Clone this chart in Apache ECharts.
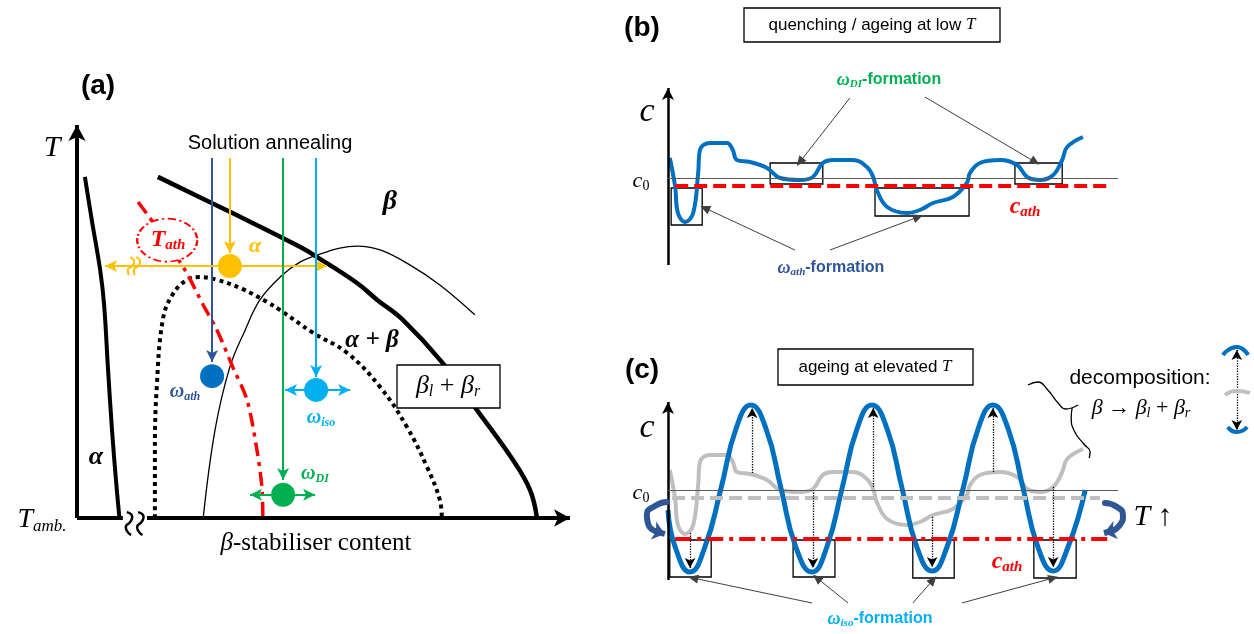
<!DOCTYPE html>
<html>
<head>
<meta charset="utf-8">
<script src="https://cdn.jsdelivr.net/npm/echarts/dist/echarts.min.js"></script>
<style>
  html, body { margin: 0; padding: 0; background: #fff; }
  #chart { width: 1254px; height: 634px; }
</style>
</head>
<body>
<div id="chart"></div>
<script>
// ---------- (a) schematic phase diagram: x = beta-stabiliser content, y = T (0..100) ----------
const alphaBoundary = [[1.6,86.8],[3.0,75.8],[4.7,63.1],[5.5,54.2],[6.3,37.7],[7.1,22.4],[7.9,9.7],[8.6,0]];
const betaTransus = [[16.4,86.8],[31.0,77.9],[45.2,69.0],[48.7,66.4],[56.8,59.8],[60.9,55.5],[66.1,50.4],[74.2,39.4],[81.1,27.5],[88.4,14.8],[91.9,7.1],[93.3,0]];
const spinodal = [[25.6,0],[28.0,22.4],[31.0,38.4],[34.1,47.8],[37.1,55.5],[41.2,61.3],[45.2,65.1],[48.7,66.9],[53.3,68.7],[56.8,69.2],[61.5,68.2],[67.5,64.4],[73.6,59.3],[80.7,51.7]];
const omegaLimit = [[15.8,0],[15.8,17.3],[16.2,33.8],[17.4,50.4],[19.3,56.7],[22.3,60.6],[24.9,61.3],[28.4,60.6],[33.5,58.3],[38.5,55.0],[41.2,52.9],[47.9,47.1],[54.8,42.0],[61.5,33.3],[66.9,23.2],[71.0,13.0],[73.6,4.6],[74.0,0]];
const tAthLine = [[12.4,80.4],[16.8,72.8],[21.9,63.1],[25.6,54.2],[28.4,47.8],[31.6,38.4],[34.5,30.0],[36.5,17.3],[37.5,7.9],[37.7,0]];
const tAthMark = [18.3, 70.7];
const axisBreakA = [[10.1,1.5],[11.2,0.3],[10.8,-1.0],[9.9,-2.3],[10.3,-3.6],[11.0,-4.3]];
const axisBreakB = [[12.4,1.5],[13.5,0.3],[13.1,-1.0],[12.2,-2.3],[12.6,-3.6],[13.3,-4.3]];
const alphaBreakA = [[10.8,66.4],[11.6,65.1],[11.2,64.1],[10.3,63.1],[10.5,61.8]];
const alphaBreakB = [[12.0,66.4],[12.8,65.1],[12.4,64.1],[11.5,63.1],[11.7,61.8]];
const xAxisLeftEnd = 9.3, xAxisRightStart = 14.2;
const annealStartT = 91.6;
// end points of the quenches: [content, T]
const omegaAthPt = [27.4, 36.1];
const alphaPt = [31.0, 64.1];
const omegaIsoPt = [48.5, 32.6];
const omegaDIPt = [41.8, 5.9];
// arrow tips reached by each quench line
const quenchTips = { ath: 39.7, alpha: 67.4, iso: 35.9, di: 9.7 };
// horizontal spreads [left tip, right tip]
const alphaSpread = [5.7, 50.7];
const isoSpread = [42.2, 55.4];
const diSpread = [35.1, 48.3];

// ---------- (b) concentration profile after quenching / low-T ageing (c0 = 0) ----------
const profileLow = [[0.4,2.0],[1.6,-0.9],[2.2,-3.5],[3.8,-4.4],[5.6,-3.5],[6.7,0.5],[7.1,2.8],[9.3,3.5],[13.1,3.5],[14.4,2.8],[15.3,1.8],[18.2,1.6],[22.0,1.0],[24.9,0],[29.3,-0.2],[32.2,0.1],[34.4,1.5],[36.7,1.8],[41.1,1.8],[44.2,1.1],[45.6,0.1],[46.4,-1.2],[48.7,-2.9],[53.1,-3.5],[56.0,-3.2],[58.9,-2.5],[63.3,-1.9],[66.4,-0.5],[67.1,0.5],[69.3,1.5],[73.8,1.8],[77.6,1.3],[79.8,0.1],[82.7,-0.2],[85.6,0.3],[87.6,1.8],[88.7,3.1],[92.2,4.1]];
const cAthLow = -0.8;
const cAxisB = [-8.7, 9.0];
const boxesB = [[[0.7,-1.0],[7.6,-4.7]], [[22.7,1.5],[34.4,-0.6]], [[46.0,-1.0],[66.9,-3.8]], [[77.1,1.5],[87.6,-0.6]]];
const diArrowsB = [[[40.4,8.0],[29.3,1.6]], [[57.1,8.1],[81.6,1.6]]];
const athArrowsB = [[[28.2,-7.2],[8.2,-3.0]], [[36.0,-7.2],[55.6,-3.9]]];

// ---------- (c) profile after ageing at elevated T ----------
const profileAged = [[0,-2.0],[1.6,-5.7],[4.9,-8.2],[8.2,-5.7],[11.8,0.2],[15.1,6.1],[18.4,8.5],[21.8,6.1],[25.1,0.2],[28.4,-5.7],[32.0,-8.2],[35.3,-5.7],[38.7,0.2],[42.0,6.1],[45.3,8.5],[48.7,6.1],[52.0,0.2],[55.3,-5.7],[58.7,-8.1],[62.0,-5.7],[65.6,0.2],[68.9,6.1],[72.2,8.5],[75.6,6.1],[78.9,0.2],[82.2,-5.7],[85.6,-8.1],[88.9,-5.7],[92.7,0.0]];
const cAthAged = -4.9;
const cAxisC = [-9.0, 8.8];
const boxesC = [[[0.4,-5.0],[9.6,-8.7]], [[27.8,-5.0],[37.1,-8.7]], [[54.4,-5.0],[63.6,-8.8]], [[81.3,-5.0],[90.7,-8.8]]];
// [position, c before, c after]
const shiftsC = [[4.9,-4.3,-7.8],[18.7,1.7,8.2],[32.2,0,-7.8],[45.6,0.3,8.2],[58.7,-2.7,-7.7],[72.2,1.8,8.2],[85.6,0.3,-7.7]];
const isoArrowsC = [[[32.0,-11.3],[5.6,-8.8]], [[40.0,-11.3],[33.1,-8.8]], [[54.4,-11.3],[58.9,-9.0]], [[65.3,-11.3],[85.6,-8.8]]];
// curved "T up" arrows: arc body and head segment
const turnLeftArc = [[-0.2,-1.2],[-2.9,-1.6],[-4.7,-2.5],[-4.4,-3.4],[-2.9,-4.1]];
const turnLeftHead = [[-2.9,-4.1],[-0.7,-4.4]];
const turnRightArc = [[97.1,-1.3],[99.8,-1.7],[101.1,-2.6],[100.4,-3.5],[98.7,-4.1]];
const turnRightHead = [[98.7,-4.1],[96.9,-4.3]];
const braceUpper = [[80.0,10.5],[82.2,10.8],[84.4,10.0],[86.7,8.7],[88.4,8.1],[91.1,8.5]];
const braceLower = [[89.8,8.2],[89.6,7.2],[90.4,5.8],[92.4,4.6],[93.8,3.8],[93.6,3.2]];
const iconTop = [[123.3,13.5],[126.4,14.3],[128.9,13.5]];
const iconMid = [[123.8,9.5],[126.4,9.9],[129.3,9.7]];
const iconBottom = [[124.4,6.3],[126.4,5.8],[128.7,6.3]];
const iconShift = [[126.4,14.0],[126.4,6.0]];

// ---------- styles ----------
const RED = '#FF0000', DBLUE = '#2F5597', BLUE = '#0070C0', LBLUE = '#00B0F0',
      GREEN = '#00B050', YELLOW = '#FFC000', GRAY = '#BFBFBF', INK = '#000';
const SANS = '"Liberation Sans", Arial, sans-serif';
const SERIF = '"Liberation Serif", "Times New Roman", serif';

function curve(i, data, style, smooth, z) {
  return { type: 'line', xAxisIndex: i, yAxisIndex: i, data: data, symbol: 'none', showSymbol: false,
           smooth: smooth, clip: false, silent: true, z: z || 2, lineStyle: style };
}
function arrows(i, pairs, style, symbol, size, z) {
  return { type: 'line', xAxisIndex: i, yAxisIndex: i, data: [], silent: true, z: z || 3,
    markLine: { silent: true, animation: false, symbol: symbol, symbolSize: size,
      label: { show: false }, emphasis: { disabled: true }, lineStyle: style,
      data: pairs.map(p => [{ coord: p[0] }, { coord: p[1] }]) } };
}
function boxes(i, rects) {
  return { type: 'line', xAxisIndex: i, yAxisIndex: i, data: [], silent: true, z: 4,
    markArea: { silent: true, animation: false, label: { show: false },
      itemStyle: { color: 'rgba(0,0,0,0)', borderColor: INK, borderWidth: 1.3 },
      data: rects.map(r => [{ coord: r[0] }, { coord: r[1] }]) } };
}
function text(x, y, str, font, fill, rich) {
  return { type: 'text', x: x, y: y, silent: true, z: 100,
    style: { text: str, font: font, fill: fill || INK, align: 'center', verticalAlign: 'middle', rich: rich } };
}
function rect(x, y, w, h) {
  return { type: 'rect', silent: true, z: 99, shape: { x: x, y: y, width: w, height: h },
    style: { fill: '#fff', stroke: INK, lineWidth: 1.3 } };
}
function mathRich(color, size, bold) {
  const w = bold ? 'bold' : 'normal';
  return {
    m: { fontFamily: SERIF, fontStyle: 'italic', fontWeight: w, fontSize: size, fill: color },
    s: { fontFamily: SERIF, fontStyle: 'italic', fontWeight: w, fontSize: Math.round(size * 0.62), fill: color, padding: [Math.round(size * 0.45), 0, 0, 0] },
    z: { fontFamily: SERIF, fontStyle: 'normal', fontWeight: w, fontSize: Math.round(size * 0.62), fill: color, padding: [Math.round(size * 0.45), 0, 0, 0] },
    n: { fontFamily: SERIF, fontStyle: 'normal', fontWeight: w, fontSize: size, fill: color },
    f: { fontFamily: SANS, fontWeight: 'bold', fontSize: size - 2, fill: color },
    t: { fontFamily: SANS, fontWeight: 'normal', fontSize: size, fill: color }
  };
}
const vert = (x, top, tip) => [[x, top], [x, tip]];

const series = [];

// ---- panel (a) ----
series.push(arrows(0, [[[0, 0], [0, 100]], [[xAxisRightStart, 0], [100, 0]]], { color: INK, width: 4, type: 'solid' }, ['none', 'arrow'], [13, 16], 6));
series.push(arrows(0, [[[0, 0], [xAxisLeftEnd, 0]]], { color: INK, width: 4, type: 'solid' }, ['none', 'none'], 1, 6));
series.push(curve(0, axisBreakA, { color: INK, width: 2.5 }, 0.6, 6));
series.push(curve(0, axisBreakB, { color: INK, width: 2.5 }, 0.6, 6));
series.push(curve(0, alphaBoundary, { color: INK, width: 4 }, 0.4));
series.push(curve(0, betaTransus, { color: INK, width: 4.5 }, 0.4));
series.push(curve(0, spinodal, { color: INK, width: 1.3 }, 0.4));
series.push(curve(0, omegaLimit, { color: INK, width: 4, type: [4, 4] }, 0.4));
series.push(curve(0, tAthLine, { color: RED, width: 3.5, type: [14, 6, 4, 6] }, 0.3, 3));
series.push({ type: 'scatter', xAxisIndex: 0, yAxisIndex: 0, data: [tAthMark], symbol: 'circle', symbolSize: [60, 43], silent: true, z: 4,
  itemStyle: { color: '#fff', opacity: 1, borderColor: RED, borderWidth: 2, borderType: [7, 3, 2, 3] } });
// quench paths from solution annealing
const headA = [9, 12];
series.push(arrows(0, [vert(omegaAthPt[0], annealStartT, quenchTips.ath)], { color: DBLUE, width: 2, type: 'solid' }, ['none', 'arrow'], headA, 5));
series.push(arrows(0, [vert(alphaPt[0], annealStartT, quenchTips.alpha),
  [alphaPt, [alphaSpread[0], alphaPt[1]]], [alphaPt, [alphaSpread[1], alphaPt[1]]]],
  { color: YELLOW, width: 2, type: 'solid' }, ['none', 'arrow'], headA, 5));
series.push(arrows(0, [vert(omegaDIPt[0], annealStartT, quenchTips.di),
  [omegaDIPt, [diSpread[0], omegaDIPt[1]]], [omegaDIPt, [diSpread[1], omegaDIPt[1]]]],
  { color: GREEN, width: 2, type: 'solid' }, ['none', 'arrow'], headA, 5));
series.push(arrows(0, [vert(omegaIsoPt[0], annealStartT, quenchTips.iso),
  [omegaIsoPt, [isoSpread[0], omegaIsoPt[1]]], [omegaIsoPt, [isoSpread[1], omegaIsoPt[1]]]],
  { color: LBLUE, width: 2, type: 'solid' }, ['none', 'arrow'], headA, 5));
series.push(curve(0, alphaBreakA, { color: YELLOW, width: 2 }, 0.6, 6));
series.push(curve(0, alphaBreakB, { color: YELLOW, width: 2 }, 0.6, 6));
series.push({ type: 'scatter', xAxisIndex: 0, yAxisIndex: 0, symbolSize: 24, silent: true, z: 7,
  itemStyle: { opacity: 1 },
  data: [
    { value: omegaAthPt, itemStyle: { color: BLUE, opacity: 1 } },
    { value: alphaPt, itemStyle: { color: YELLOW, opacity: 1 } },
    { value: omegaDIPt, itemStyle: { color: GREEN, opacity: 1 } },
    { value: omegaIsoPt, itemStyle: { color: LBLUE, opacity: 1 } }
  ] });

// ---- panel (b) ----
series.push(arrows(1, [[[0, cAxisB[0]], [0, cAxisB[1]]]], { color: INK, width: 2.5, type: 'solid' }, ['none', 'arrow'], [9, 12], 6));
series.push(arrows(1, [[[0, 0], [100, 0]]], { color: '#595959', width: 1, type: 'solid' }, ['none', 'none'], 1, 2));
series.push(arrows(1, [[[1.6, cAthLow], [98.2, cAthLow]]], { color: RED, width: 4, type: [13, 6] }, ['none', 'none'], 1, 2));
series.push(curve(1, profileLow, { color: BLUE, width: 4 }, 0.4, 3));
series.push(boxes(1, boxesB));
series.push(arrows(1, diArrowsB.concat(athArrowsB), { color: '#404040', width: 1, type: 'solid' }, ['none', 'triangle'], [9, 10], 5));

// ---- panel (c) ----
series.push(arrows(2, [[[0, cAxisC[0]], [0, cAxisC[1]]]], { color: INK, width: 2.5, type: 'solid' }, ['none', 'arrow'], [9, 12], 6));
series.push(arrows(2, [[[0, 0], [100, 0]]], { color: '#595959', width: 1, type: 'solid' }, ['none', 'none'], 1, 2));
series.push(arrows(2, [[[0.9, cAthLow], [96, cAthLow]]], { color: GRAY, width: 4, type: [13, 6] }, ['none', 'none'], 1, 2));
series.push(curve(2, profileLow, { color: GRAY, width: 4 }, 0.4, 2));
series.push(arrows(2, [[[1.6, cAthAged], [97.8, cAthAged]]], { color: RED, width: 4, type: [16, 6, 4, 6] }, ['none', 'none'], 1, 2));
series.push(curve(2, profileAged, { color: BLUE, width: 5 }, 0.5, 3));
series.push(boxes(2, boxesC));
series.push(arrows(2, shiftsC.map(s => [[s[0], s[1]], [s[0], s[2]]]), { color: INK, width: 1.3, type: 'dotted' }, ['none', 'arrow'], [8, 10], 5));
series.push(arrows(2, isoArrowsC, { color: '#404040', width: 1, type: 'solid' }, ['none', 'triangle'], [9, 10], 5));
series.push(curve(2, turnLeftArc, { color: DBLUE, width: 6, cap: 'round' }, 0.6, 5));
series.push(curve(2, turnRightArc, { color: DBLUE, width: 6, cap: 'round' }, 0.6, 5));
series.push(arrows(2, [turnLeftHead, turnRightHead], { color: DBLUE, width: 6, type: 'solid' }, ['none', 'arrow'], [14, 12], 5));
series.push(curve(2, braceUpper, { color: INK, width: 1.3 }, 0.5, 5));
series.push(curve(2, braceLower, { color: INK, width: 1.3 }, 0.5, 5));
series.push(curve(2, iconTop, { color: BLUE, width: 4 }, 0.6, 5));
series.push(curve(2, iconMid, { color: GRAY, width: 4 }, 0.6, 5));
series.push(curve(2, iconBottom, { color: BLUE, width: 4 }, 0.6, 5));
series.push(arrows(2, [iconShift], { color: INK, width: 1.3, type: 'dotted' }, ['arrow', 'arrow'], [8, 10], 6));

// ---------- texts ----------
const graphic = [
  // (a)
  text(98, 86, '(a)', 'bold 28px ' + SANS),
  text(52, 148, 'T', 'italic 30px ' + SERIF),
  text(42, 520, '{m|T}{s|amb.}', 'italic 28px ' + SERIF, INK, mathRich(INK, 28, false)),
  text(316, 543, '{m|β}{n|-stabiliser content}', '25px ' + SERIF, INK, mathRich(INK, 25, false)),
  text(270, 143, 'Solution annealing', '20px ' + SANS),
  text(390, 202, 'β', 'italic bold 28px ' + SERIF),
  text(372, 341, 'α + β', 'italic bold 25px ' + SERIF),
  rect(397, 365, 103, 43),
  text(448, 386, '{m|β}{s|l}{n| + }{m|β}{s|r}', '26px ' + SERIF, INK, mathRich(INK, 26, false)),
  text(96, 457, 'α', 'italic bold 26px ' + SERIF),
  text(255, 246, 'α', 'italic bold 22px ' + SERIF, YELLOW),
  text(168, 240, '{m|T}{s|ath}', 'italic bold 24px ' + SERIF, RED, mathRich(RED, 24, true)),
  text(185, 392, '{m|ω}{s|ath}', 'italic bold 20px ' + SERIF, DBLUE, mathRich(DBLUE, 20, true)),
  text(321, 418, '{m|ω}{s|iso}', 'italic bold 20px ' + SERIF, LBLUE, mathRich(LBLUE, 20, true)),
  text(315, 474, '{m|ω}{s|DI}', 'italic bold 20px ' + SERIF, GREEN, mathRich(GREEN, 20, true)),
  // (b)
  text(642, 28, '(b)', 'bold 28px ' + SANS),
  rect(744, 8, 256, 34),
  text(872, 25, '{t|quenching / ageing at low }{m|T}', '17px ' + SANS, INK, mathRich(INK, 17, false)),
  text(647, 112, 'c', 'italic 34px ' + SERIF),
  text(641, 181, '{m|c}{z|0}', 'italic 22px ' + SERIF, INK, mathRich(INK, 22, false)),
  text(889, 80, '{m|ω}{s|DI}{f|-formation}', 'bold 18px ' + SANS, GREEN, mathRich(GREEN, 18, true)),
  text(831, 268, '{m|ω}{s|ath}{f|-formation}', 'bold 18px ' + SANS, DBLUE, mathRich(DBLUE, 18, true)),
  text(1025, 207, '{m|c}{s|ath}', 'italic bold 24px ' + SERIF, RED, mathRich(RED, 24, true)),
  // (c)
  text(642, 370, '(c)', 'bold 28px ' + SANS),
  rect(778, 349, 195, 36),
  text(875, 367, '{t|ageing at elevated }{m|T}', '17px ' + SANS, INK, mathRich(INK, 17, false)),
  text(647, 428, 'c', 'italic 34px ' + SERIF),
  text(641, 493, '{m|c}{z|0}', 'italic 22px ' + SERIF, INK, mathRich(INK, 22, false)),
  text(880, 619, '{m|ω}{s|iso}{f|-formation}', 'bold 18px ' + SANS, LBLUE, mathRich(LBLUE, 18, true)),
  text(1007, 562, '{m|c}{s|ath}', 'italic bold 24px ' + SERIF, RED, mathRich(RED, 24, true)),
  text(1153, 517, '{m|T}{n| ↑}', '30px ' + SERIF, INK, mathRich(INK, 30, false)),
  text(1140, 378, 'decomposition:', '21px ' + SANS),
  text(1141, 408, '{m|β}{n| → }{m|β}{s|l}{n| + }{m|β}{s|r}', '22px ' + SERIF, INK, mathRich(INK, 22, false))
];

const hiddenAxis = (min, max) => ({ type: 'value', min: min, max: max, show: false, splitLine: { show: false } });

const chart = echarts.init(document.getElementById('chart'), null, { renderer: 'canvas' });
chart.setOption({
  animation: false,
  backgroundColor: '#fff',
  grid: [
    { left: 27.7, top: 85.7, width: 591.6, height: 471.6 },
    { left: 623, top: 58, width: 630, height: 240 },
    { left: 623, top: 330, width: 630, height: 280 }
  ],
  xAxis: [
    Object.assign(hiddenAxis(-10, 110), { gridIndex: 0 }),
    Object.assign(hiddenAxis(-10, 130), { gridIndex: 1 }),
    Object.assign(hiddenAxis(-10, 130), { gridIndex: 2 })
  ],
  yAxis: [
    Object.assign(hiddenAxis(-10, 110), { gridIndex: 0 }),
    Object.assign(hiddenAxis(-12, 12), { gridIndex: 1 }),
    Object.assign(hiddenAxis(-12, 16), { gridIndex: 2 })
  ],
  series: series,
  graphic: graphic
});
</script>
</body>
</html>
